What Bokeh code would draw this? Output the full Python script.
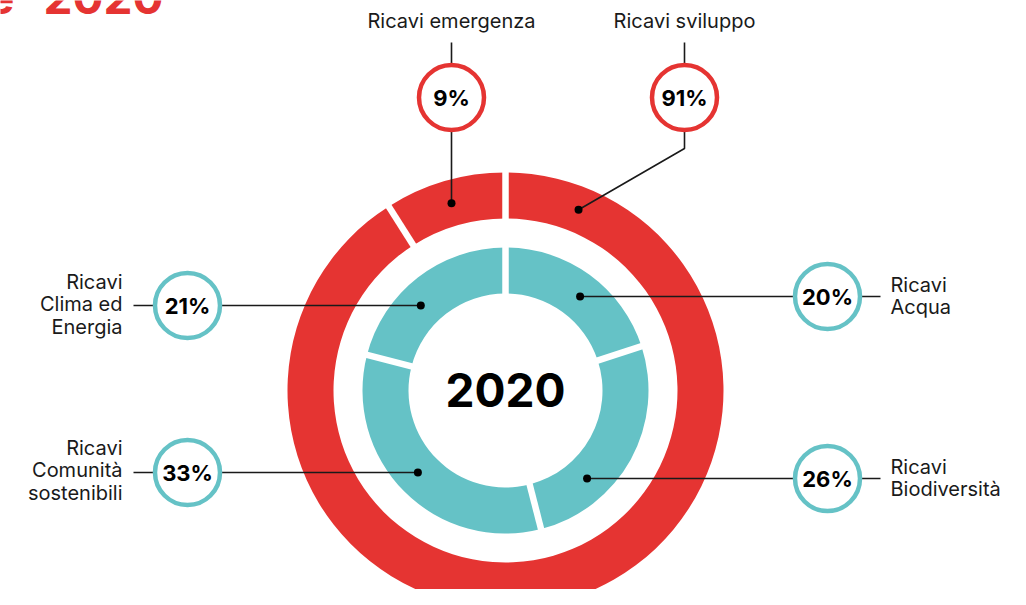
import numpy as np
from bokeh.plotting import figure
from bokeh.models import Range1d, ColumnDataSource
from bokeh.core.properties import value
from bokeh.embed import file_html
from bokeh.resources import INLINE

# ---------------- data ----------------
outer_labels = ["Ricavi sviluppo", "Ricavi emergenza"]
outer_values = [91, 9]
inner_labels = ["Ricavi Acqua", "Ricavi Biodiversità", "Ricavi Comunità sostenibili", "Ricavi Clima ed Energia"]
inner_values = [20, 26, 33, 21]
center_label = "2020"
title_parts = ["e", "2020"]

# ---------------- style / layout ----------------
RED = "#E53432"
TEAL = "#65C2C6"
INK = "#1a1a1a"
FONT = value("Inter")
H = 605


def Y(y):
    return H - y


CX, CY = 505, Y(390)
R_OUT = (172, 218)
R_IN = (97, 143)
R_MID_OUT = 195
R_MID_IN = 120

p = figure(width=1010, height=589, x_range=Range1d(0, 1010), y_range=Range1d(16, 605),
           output_backend="svg", toolbar_location=None, min_border=0)
p.axis.visible = False
p.grid.visible = False
p.outline_line_color = None
p.background_fill_color = "white"
p.border_fill_color = "white"


def cw_bounds(values):
    v = np.asarray(values, dtype=float)
    return np.concatenate([[0.0], np.cumsum(v) / v.sum() * 360.0])


def ring(values, radii, color):
    b = cw_bounds(values)
    starts = np.radians(90 - b[1:])
    ends = np.radians(90 - b[:-1])
    src = ColumnDataSource(dict(s=starts, e=ends))
    p.annular_wedge(x=CX, y=CY, inner_radius=radii[0], outer_radius=radii[1],
                    start_angle="s", end_angle="e", source=src,
                    fill_color=color, line_color=None)
    th = np.radians(b[:-1])
    r0, r1 = radii[0] - 2, radii[1] + 2
    p.segment(x0=CX + r0 * np.sin(th), y0=CY + r0 * np.cos(th),
              x1=CX + r1 * np.sin(th), y1=CY + r1 * np.cos(th),
              line_color="white", line_width=6.5)
    return b


b_out = ring(outer_values, R_OUT, RED)
b_in = ring(inner_values, R_IN, TEAL)

# ---------------- callouts ----------------
em_cx, em_cy = 451, 97
sv_cx, sv_cy = 684, 97
em_dot = (em_cx, CY + np.sqrt(R_MID_OUT ** 2 - (em_cx - CX) ** 2))
sv_ang = np.radians(22)
sv_dot = (CX + R_MID_OUT * np.sin(sv_ang), CY + R_MID_OUT * np.cos(sv_ang))

inner_callouts = {
    "Ricavi Acqua": (827, 296, 1),
    "Ricavi Biodiversità": (827, 478, 1),
    "Ricavi Comunità sostenibili": (187, 472, -1),
    "Ricavi Clima ed Energia": (187, 305, -1),
}

xs, ys = [], []
xs.append([em_cx, em_dot[0]]); ys.append([Y(42), em_dot[1]])
xs.append([sv_cx, sv_cx, sv_dot[0]]); ys.append([Y(42), Y(148), sv_dot[1]])

dots_x = [em_dot[0], sv_dot[0]]
dots_y = [em_dot[1], sv_dot[1]]
for lab in inner_labels:
    cx, cy, side = inner_callouts[lab]
    dy = Y(cy) - CY
    dx = side * np.sqrt(R_MID_IN ** 2 - dy ** 2)
    dxp = CX + dx
    end = 880 if side > 0 else 133
    xs.append([dxp, end]); ys.append([Y(cy), Y(cy)])
    dots_x.append(dxp); dots_y.append(Y(cy))

p.multi_line(xs=xs, ys=ys, line_color=INK, line_width=1.6)
p.circle(x=dots_x, y=dots_y, radius=4, fill_color="black", line_color=None)

circ_x = [em_cx, sv_cx] + [inner_callouts[l][0] for l in inner_labels]
circ_y = [Y(em_cy), Y(sv_cy)] + [Y(inner_callouts[l][1]) for l in inner_labels]
circ_c = [RED, RED] + [TEAL] * len(inner_labels)
p.circle(x=circ_x, y=circ_y, radius=32.5, fill_color="white", line_color=circ_c, line_width=4.5)

pct_txt = [f"{outer_values[1]}%", f"{outer_values[0]}%"] + [f"{v}%" for v in inner_values]
p.text(x=circ_x, y=circ_y, text=pct_txt, text_font=FONT,
       text_font_size="22px", text_font_style="bold", text_color="black",
       text_align="center", text_baseline="middle")

# category label texts (y = glyph middle)
lab_x, lab_y, lab_t, lab_a = [], [], [], []
lab_x += [em_cx, sv_cx]; lab_y += [Y(20.5), Y(20.5)]
lab_t += [outer_labels[1], outer_labels[0]]; lab_a += ["center", "center"]
line_sets = {
    "Ricavi Clima ed Energia": (122, [281, 303.5, 326], ["Ricavi", "Clima ed", "Energia"], "right"),
    "Ricavi Comunità sostenibili": (122, [447, 469.5, 492], ["Ricavi", "Comunità", "sostenibili"], "right"),
    "Ricavi Acqua": (890, [284.5, 306.5], ["Ricavi", "Acqua"], "left"),
    "Ricavi Biodiversità": (890, [466.5, 488], ["Ricavi", "Biodiversità"], "left"),
}
for lab in inner_labels:
    x0, yl, tl, al = line_sets[lab]
    for yy, tt in zip(yl, tl):
        lab_x.append(x0); lab_y.append(Y(yy)); lab_t.append(tt); lab_a.append(al)
p.text(x=lab_x, y=lab_y, text=lab_t, text_align=lab_a, text_font=FONT,
       text_font_size="20px", text_color=INK, text_baseline="middle")

p.text(x=[CX], y=[Y(389)], text=[center_label], text_font=FONT, text_font_size="46px",
       text_font_style="bold", text_color="black", text_align="center", text_baseline="middle")

# clipped red title at the top-left
p.text(x=[14, 43], y=[Y(-4), Y(-4)], text=title_parts, text_align=["right", "left"],
       text_font=FONT, text_font_size="46px", text_font_style="bold", text_color=RED,
       text_baseline="middle")

open("out.html", "w").write(file_html(p, INLINE))
